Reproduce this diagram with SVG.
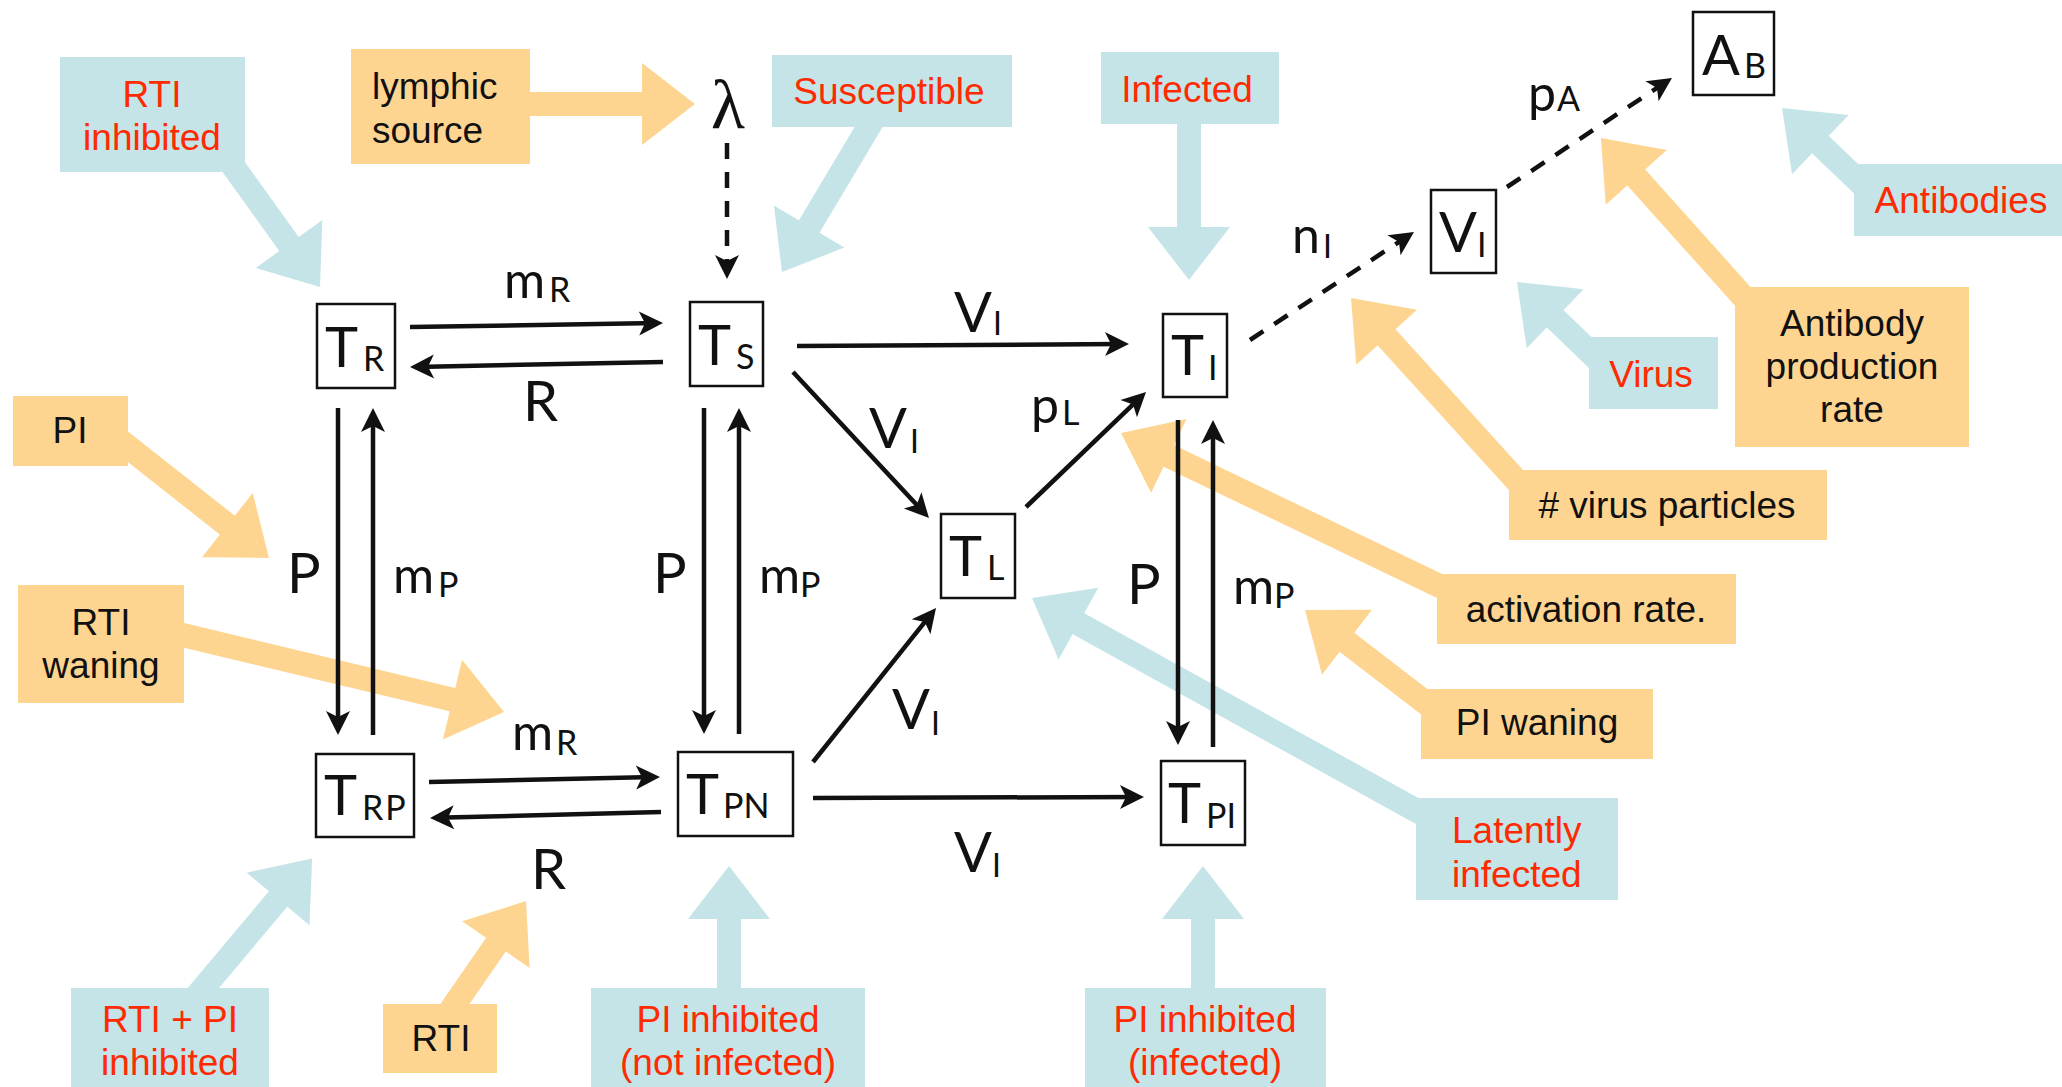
<svg xmlns="http://www.w3.org/2000/svg" width="2062" height="1087" viewBox="0 0 2062 1087">
<style>
.cb{fill:#c5e4e8}
.co{fill:#fed590}
.ab{stroke:#c5e4e8;stroke-width:24;fill:none;marker-end:url(#hb)}
.ao{stroke:#fed590;stroke-width:24;fill:none;marker-end:url(#ho)}
.t{font-family:'Liberation Sans',Arial,sans-serif;font-size:37px;text-anchor:middle}
.tl{font-family:'Liberation Sans',Arial,sans-serif;font-size:37px}
.red{fill:#ff2a00}
.blk{fill:#111}
.node rect{fill:#fff;stroke:#111;stroke-width:2.5}
.m{font-family:Lato,'Open Sans',sans-serif;fill:#111;font-size:56px}
.s{font-size:34px}
.sm{font-size:50px}
.vs{font-size:32px}
.e{stroke:#111;stroke-width:4.5;fill:none;marker-end:url(#ah)}
.d{stroke-dasharray:16 13}
</style>
<defs>
<marker id="ah" markerUnits="userSpaceOnUse" viewBox="-20 -14 28 28" refX="0" refY="0" markerWidth="28" markerHeight="28" orient="auto">
<path d="M6,0 L-18,-12 L-12,0 L-18,12 Z" fill="#111"/>
</marker>
<marker id="hb" markerUnits="userSpaceOnUse" viewBox="-2 -43 58 86" refX="3" refY="0" markerWidth="58" markerHeight="86" orient="auto">
<path d="M0,-41 L53,0 L0,41 Z" fill="#c5e4e8"/>
</marker>
<marker id="ho" markerUnits="userSpaceOnUse" viewBox="-2 -43 58 86" refX="3" refY="0" markerWidth="58" markerHeight="86" orient="auto">
<path d="M0,-41 L53,0 L0,41 Z" fill="#fed590"/>
</marker>
</defs>
<rect width="2062" height="1087" fill="#fff"/>

<g id="callouts">
<g id="c-rti-inhibited">
<line class="ab" x1="225" y1="155" x2="290.8" y2="246.4"/>
<rect class="cb" x="60" y="57" width="185" height="115"/>
<text class="t red" x="152" y="107">RTI</text>
<text class="t red" x="152" y="150">inhibited</text>
</g>
<g id="c-lymphic">
<line class="ao" x1="520" y1="104" x2="645" y2="104"/>
<rect class="co" x="351" y="49" width="179" height="115"/>
<text class="tl blk" x="372" y="99">lymphic</text>
<text class="tl blk" x="372" y="143">source</text>
</g>
<g id="c-susceptible">
<line class="ab" x1="877" y1="113" x2="807.6" y2="229.1"/>
<rect class="cb" x="772" y="55" width="240" height="72"/>
<text class="t red" x="889" y="104">Susceptible</text>
</g>
<g id="c-infected">
<line class="ab" x1="1189" y1="115" x2="1189" y2="230"/>
<rect class="cb" x="1101" y="52" width="178" height="72"/>
<text class="t red" x="1187" y="102">Infected</text>
</g>
<g id="c-antibodies">
<line class="ab" x1="1870" y1="192" x2="1818.2" y2="142.5"/>
<rect class="cb" x="1854" y="164" width="208" height="72"/>
<text class="t red" x="1961" y="213">Antibodies</text>
</g>
<g id="c-virus">
<line class="ab" x1="1600" y1="362" x2="1553" y2="316.7"/>
<rect class="cb" x="1589" y="337" width="129" height="72"/>
<text class="t red" x="1651" y="387">Virus</text>
</g>
<g id="c-antibody-rate">
<line class="ao" x1="1755" y1="310" x2="1634.3" y2="175.2"/>
<rect class="co" x="1735" y="287" width="234" height="160"/>
<text class="t blk" x="1852" y="336">Antibody</text>
<text class="t blk" x="1852" y="379">production</text>
<text class="t blk" x="1852" y="422">rate</text>
</g>
<g id="c-virus-particles">
<line class="ao" x1="1525" y1="490" x2="1384.6" y2="335.1"/>
<rect class="co" x="1509" y="470" width="318" height="70"/>
<text class="t blk" x="1667" y="518"># virus particles</text>
</g>
<g id="c-activation">
<line class="ao" x1="1450" y1="591" x2="1166.1" y2="454.6"/>
<rect class="co" x="1437" y="574" width="299" height="70"/>
<text class="t blk" x="1586" y="622">activation rate.</text>
</g>
<g id="c-pi-waning">
<line class="ao" x1="1435" y1="710" x2="1344.6" y2="640.5"/>
<rect class="co" x="1421" y="689" width="232" height="70"/>
<text class="t blk" x="1537" y="735">PI waning</text>
</g>
<g id="c-latently">
<line class="ab" x1="1428" y1="817" x2="1075.8" y2="622.2"/>
<rect class="cb" x="1416" y="798" width="202" height="102"/>
<text class="tl red" x="1452" y="843">Latently</text>
<text class="tl red" x="1452" y="887">infected</text>
</g>
<g id="c-pi">
<line class="ao" x1="118" y1="439" x2="229.7" y2="527"/>
<rect class="co" x="13" y="396" width="115" height="70"/>
<text class="t blk" x="70" y="443">PI</text>
</g>
<g id="c-rti-waning">
<line class="ao" x1="170" y1="632" x2="455.4" y2="700.4"/>
<rect class="co" x="18" y="585" width="166" height="118"/>
<text class="t blk" x="101" y="635">RTI</text>
<text class="t blk" x="101" y="678">waning</text>
</g>
<g id="c-rti-pi">
<line class="ab" x1="195" y1="998" x2="280" y2="896.7"/>
<rect class="cb" x="71" y="988" width="198" height="99"/>
<text class="t red" x="170" y="1032">RTI + PI</text>
<text class="t red" x="170" y="1075">inhibited</text>
</g>
<g id="c-rti">
<line class="ao" x1="448" y1="1014" x2="497.6" y2="942.2"/>
<rect class="co" x="383" y="1004" width="114" height="69"/>
<text class="t blk" x="441" y="1051">RTI</text>
</g>
<g id="c-pi-not-infected">
<line class="ab" x1="729" y1="998" x2="729" y2="916"/>
<rect class="cb" x="591" y="988" width="274" height="99"/>
<text class="t red" x="728" y="1032">PI inhibited</text>
<text class="t red" x="728" y="1075">(not infected)</text>
</g>
<g id="c-pi-infected">
<line class="ab" x1="1203" y1="998" x2="1203" y2="916"/>
<rect class="cb" x="1085" y="988" width="241" height="99"/>
<text class="t red" x="1205" y="1032">PI inhibited</text>
<text class="t red" x="1205" y="1075">(infected)</text>
</g>
</g>

<g id="connectors">
<line class="e" x1="410" y1="327" x2="657" y2="323.1"/>
<line class="e" x1="663" y1="362" x2="416" y2="366.9"/>
<line class="e" x1="338" y1="408" x2="338" y2="729"/>
<line class="e" x1="373" y1="735" x2="373" y2="414"/>
<line class="e" x1="704" y1="408" x2="704" y2="728"/>
<line class="e" x1="739" y1="734" x2="739" y2="414"/>
<line class="e" x1="797" y1="346" x2="1123" y2="344"/>
<line class="e" x1="793" y1="372" x2="924.9" y2="513.6"/>
<line class="e" x1="1026" y1="507" x2="1141.7" y2="396.2"/>
<line class="e" x1="813" y1="762" x2="932.3" y2="612.7"/>
<line class="e" x1="813" y1="798" x2="1138" y2="797"/>
<line class="e" x1="1178" y1="420" x2="1178" y2="739"/>
<line class="e" x1="1213" y1="747" x2="1213" y2="426"/>
<line class="e" x1="429" y1="782" x2="654" y2="777.1"/>
<line class="e" x1="661" y1="812" x2="436" y2="817.8"/>
<line class="e d" x1="727" y1="143" x2="727" y2="273"/>
<line class="e d" x1="1250" y1="340" x2="1409" y2="235.3"/>
<line class="e d" x1="1507" y1="187" x2="1667" y2="81.3"/>
</g>

<g id="edge-labels">
<text class="m sm" x="504" y="298">m<tspan class="s" x="549" y="302">R</tspan></text>
<text class="m" x="523" y="421">R</text>
<text class="m" x="287" y="593">P</text>
<text class="m sm" x="393" y="593">m<tspan class="s" x="438" y="597">P</tspan></text>
<text class="m" x="653" y="593">P</text>
<text class="m sm" x="759" y="593">m<tspan class="s" x="800" y="597">P</tspan></text>
<text class="m" x="1127" y="604">P</text>
<text class="m sm" x="1233" y="604">m<tspan class="s" x="1274" y="608">P</tspan></text>
<text class="m sm" x="512" y="750">m<tspan class="s" x="556" y="755">R</tspan></text>
<text class="m" x="531" y="889">R</text>
<text class="m" x="954" y="332">V<tspan class="vs" x="993" y="335">I</tspan></text>
<text class="m" x="869" y="448">V<tspan class="vs" x="910" y="453">I</tspan></text>
<text class="m" x="892" y="729">V<tspan class="vs" x="931" y="735">I</tspan></text>
<text class="m" x="954" y="872">V<tspan class="vs" x="992" y="877">I</tspan></text>
<text class="m sm" x="1031" y="423">p<tspan class="s" x="1062" y="425">L</tspan></text>
<text class="m sm" x="1292" y="253">n<tspan class="vs" x="1323" y="258">I</tspan></text>
<text class="m sm" x="1528" y="111">p<tspan class="s" x="1557" y="111">A</tspan></text>
<text x="711" y="128" font-family="'Liberation Serif',serif" font-size="70" fill="#111">λ</text>
</g>

<g id="node-TR" class="node">
<rect x="317" y="304" width="78" height="84"/>
<text class="m" x="325" y="367">T<tspan class="s" x="363" y="371">R</tspan></text>
</g>
<g id="node-TS" class="node">
<rect x="690" y="302" width="73" height="84"/>
<text class="m" x="698" y="365">T<tspan class="s" x="736" y="369">S</tspan></text>
</g>
<g id="node-TI" class="node">
<rect x="1163" y="314" width="64" height="83"/>
<text class="m" x="1171" y="375">T<tspan class="s" x="1208" y="380">I</tspan></text>
</g>
<g id="node-VI" class="node">
<rect x="1431" y="190" width="65" height="83"/>
<text class="m" x="1439" y="252">V<tspan class="s" x="1477" y="257">I</tspan></text>
</g>
<g id="node-AB" class="node">
<rect x="1693" y="12" width="81" height="83"/>
<text class="m" x="1702" y="75">A<tspan class="s" x="1744" y="78">B</tspan></text>
</g>
<g id="node-TL" class="node">
<rect x="941" y="514" width="74" height="84"/>
<text class="m" x="949" y="576">T<tspan class="s" x="987" y="580">L</tspan></text>
</g>
<g id="node-TRP" class="node">
<rect x="316" y="754" width="98" height="83"/>
<text class="m" x="324" y="815">T<tspan class="s" x="362" y="820" letter-spacing="2">RP</tspan></text>
</g>
<g id="node-TPN" class="node">
<rect x="678" y="752" width="115" height="84"/>
<text class="m" x="686" y="814">T<tspan class="s" x="723" y="818">PN</tspan></text>
</g>
<g id="node-TPI" class="node">
<rect x="1161" y="761" width="84" height="84"/>
<text class="m" x="1168" y="823">T<tspan class="s" x="1206" y="828">PI</tspan></text>
</g>
</svg>
